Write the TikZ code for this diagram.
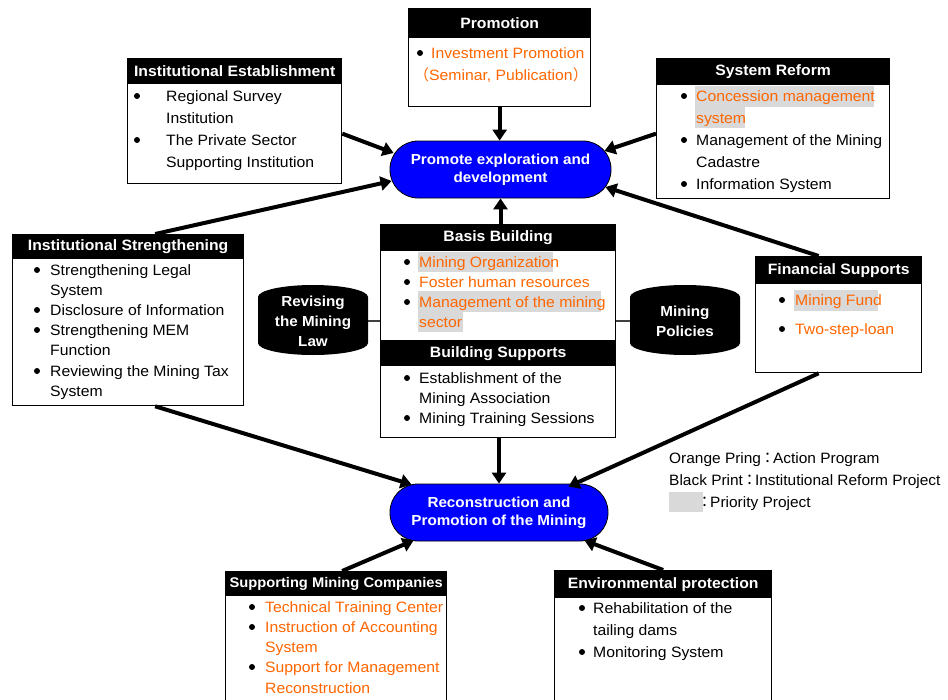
\documentclass[tikz,border=0pt]{standalone}
\usepackage{fontspec}
\setmainfont[FakeStretch=1.05]{Liberation Sans}
\newfontfamily\cjk{Noto Sans CJK JP}
\newfontfamily\keyfont[FakeStretch=1.03]{Liberation Sans}
\usetikzlibrary{arrows.meta,calc}
\definecolor{actorange}{RGB}{255,102,0}
\definecolor{prio}{RGB}{217,217,217}
\definecolor{goalblue}{RGB}{0,0,255}
\newcommand\bul[2]{\fill (#1,#2) circle[radius=3pt];}
\begin{document}
\begin{tikzpicture}[x=1pt,y=-1pt,
  panel/.style={draw, line width=1.3pt, fill=white, anchor=north west, inner sep=0pt},
  hdr/.style={draw, line width=1.3pt, fill=black, text=white, anchor=north west,
    inner sep=0pt, font=\fontsize{15}{18}\selectfont\bfseries},
  ln/.style={anchor=base west, inner sep=0pt, font=\fontsize{15}{18}\selectfont},
  act/.style={ln, text=actorange},
  keyln/.style={anchor=base west, inner sep=0pt, font=\fontsize{15}{18}\keyfont},
  hl/.style={fill=prio},
  goal/.style={draw=black, line width=0.8pt, fill=goalblue, rounded corners=28pt,
    text=white, font=\fontsize{14.5}{18}\selectfont\bfseries, align=center, inner sep=0pt},
  drum/.style={text=white, font=\fontsize{14.5}{20}\selectfont\bfseries, align=center, inner sep=0pt},
  link/.style={line width=4pt, -{Triangle[length=11pt,width=14pt]}},
  tie/.style={line width=1.3pt, draw=black!75}
]
\useasboundingbox (0,0) rectangle (948,699);

% ---------- goals ----------
\node[goal, minimum width=221pt, minimum height=57pt] (pe) at (500.5,169.5)
  {Promote exploration and\\development};
\node[goal, minimum width=218pt, minimum height=57pt] (rc) at (499,512.5)
  {Reconstruction and\\Promotion of the Mining};

% ---------- Promotion ----------
\node[panel, minimum width=182pt, minimum height=98pt] (pr) at (408,8) {};
\node[hdr, minimum width=182pt, minimum height=29pt] (prh) at (408,8) {Promotion};
\bul{420}{53}
\node[act] (pr1) at (431,58) {Investment Promotion};
\node[act] (pr2) at (414,80) {{\cjk （}Seminar, Publication{\cjk ）}};

% ---------- Institutional Establishment ----------
\node[panel, minimum width=214pt, minimum height=125pt] (ie) at (127,58) {};
\node[hdr, minimum width=214pt, minimum height=25pt] (ieh) at (127,58) {Institutional Establishment};
\bul{137}{96} \bul{137}{140}
\node[ln] (ie1) at (166,101) {Regional Survey};
\node[ln] (ie2) at (166,123) {Institution};
\node[ln] (ie3) at (166,145) {The Private Sector};
\node[ln] (ie4) at (166,167) {Supporting Institution};

% ---------- System Reform ----------
\node[panel, minimum width=233pt, minimum height=140pt] (sr) at (656,58) {};
\node[hdr, minimum width=233pt, minimum height=26pt] (srh) at (656,58) {System Reform};
\fill[hl] (695,86) rectangle (874,107);
\fill[hl] (695,107) rectangle (745,128);
\bul{684}{96} \bul{684}{140} \bul{684}{184}
\node[act] (sr1) at (696,101) {Concession management};
\node[act] (sr2) at (696,123) {system};
\node[ln] (sr3) at (696,145) {\makebox[186pt][s]{Management of the Mining}};
\node[ln] (sr4) at (696,167) {Cadastre};
\node[ln] (sr5) at (696,189) {Information System};

% ---------- Institutional Strengthening ----------
\node[panel, minimum width=231pt, minimum height=171pt] (is) at (12,234) {};
\node[hdr, minimum width=231pt, minimum height=24pt] (ish) at (12,234) {Institutional Strengthening};
\bul{37}{270} \bul{37}{310} \bul{37}{330} \bul{37}{371}
\node[ln] (is1) at (50,275) {Strengthening Legal};
\node[ln] (is2) at (50,295) {System};
\node[ln] (is3) at (50,315) {Disclosure of Information};
\node[ln] (is4) at (50,335) {Strengthening MEM};
\node[ln] (is5) at (50,355) {Function};
\node[ln] (is6) at (50,376) {Reviewing the Mining Tax};
\node[ln] (is7) at (50,396) {System};

% ---------- Basis Building / Building Supports ----------
\node[panel, minimum width=235pt, minimum height=213pt] (bb) at (380,224) {};
\node[hdr, minimum width=235pt, minimum height=26pt] (bbh) at (380,224) {Basis Building};
\node[hdr, minimum width=235pt, minimum height=25pt] (bsh) at (380,340) {Building Supports};
\fill[hl] (418,252) rectangle (553,272);
\fill[hl] (418,291) rectangle (601,312);
\fill[hl] (418,312) rectangle (463,332);
\bul{407}{262} \bul{407}{282} \bul{407}{302}
\node[act] (bb1) at (419,267) {Mining Organization};
\node[act] (bb2) at (419,287) {Foster human resources};
\node[act] (bb3) at (419,307) {Management of the mining};
\node[act] (bb4) at (419,327) {sector};
\bul{407}{378} \bul{407}{418}
\node[ln] (bs1) at (419,383) {Establishment of the};
\node[ln] (bs2) at (419,403) {Mining Association};
\node[ln] (bs3) at (419,423) {Mining Training Sessions};

% ---------- drums ----------
\fill (258,297) arc[start angle=180, end angle=360, x radius=55, y radius=12]
  -- (368,343) arc[start angle=0, end angle=180, x radius=55, y radius=12] -- cycle;
\node[drum, minimum width=110pt, minimum height=58pt] (rv) at (313,321)
  {Revising\\the Mining\\Law};
\fill (630,297) arc[start angle=180, end angle=360, x radius=55, y radius=12]
  -- (740,343) arc[start angle=0, end angle=180, x radius=55, y radius=12] -- cycle;
\node[drum, minimum width=110pt, minimum height=58pt] (mp) at (685,321)
  {Mining\\Policies};
\draw[tie] (rv.east) -- (rv.east -| bb.west);
\draw[tie] (mp.west) -- (mp.west -| bb.east);

% ---------- Financial Supports ----------
\node[panel, minimum width=166pt, minimum height=116pt] (fs) at (755,256) {};
\node[hdr, minimum width=166pt, minimum height=27pt] (fsh) at (755,256) {Financial Supports};
\fill[hl] (794,290) rectangle (878,311);
\bul{782}{300} \bul{782}{329}
\node[act] (fs1) at (795,305) {Mining Fund};
\node[act] (fs2) at (795,334) {Two-step-loan};

% ---------- key ----------
\node[keyln] (k1) at (669,463) {Orange Pring\hspace{-1pt}{\cjk ：}\hspace{-2pt}Action Program};
\node[keyln] (k2) at (669,485) {Black Print\hspace{-1pt}{\cjk ：}\hspace{-2pt}Institutional Reform Project};
\fill[hl] (669,492) rectangle (703,512);
\node[keyln] (k3) at (697,507) {{\cjk ：}\hspace{-2pt}Priority Project};

% ---------- Supporting Mining Companies ----------
\node[panel, minimum width=221pt, minimum height=135pt] (smc) at (225,571) {};
\node[hdr, minimum width=221pt, minimum height=24pt, font=\fontsize{14}{18}\selectfont\bfseries]
  (smch) at (225,571) {Supporting Mining Companies};
\bul{252}{607} \bul{252}{627} \bul{252}{667}
\node[act] (smc1) at (265,612) {Technical Training Center};
\node[act] (smc2) at (265,632) {Instruction of Accounting};
\node[act] (smc3) at (265,652) {System};
\node[act] (smc4) at (265,672) {Support for Management};
\node[act] (smc5) at (265,693) {Reconstruction};

% ---------- Environmental protection ----------
\node[panel, minimum width=217pt, minimum height=135pt] (ep) at (554,570) {};
\node[hdr, minimum width=217pt, minimum height=27pt] (eph) at (554,570) {Environmental protection};
\bul{582}{608} \bul{582}{652}
\node[ln] (ep1) at (593,613) {Rehabilitation of the};
\node[ln] (ep2) at (593,635) {tailing dams};
\node[ln] (ep3) at (593,657) {Monitoring System};

% ---------- arrows ----------
\draw[link] (pr.south) -- (pr.south |- pe.north);
\draw[link] ([yshift=-12.5pt]ie.east) -- ([xshift=4pt,yshift=16.5pt]pe.west);
\draw[link] ([yshift=-5pt]sr.west) -- ([xshift=-7pt,yshift=18.5pt]pe.east);
\draw[link] ([xshift=27pt]is.north) -- ([xshift=2pt,yshift=-11.5pt]pe.west);
\draw[link] ([xshift=-20pt]fs.north) -- ([xshift=-6pt,yshift=-17.5pt]pe.east);
\draw[link] (pe.south |- bb.north) -- (pe.south);
\draw[link] (rc.north |- bb.south) -- (rc.north);
\draw[link] ([xshift=27pt]is.south) -- ([xshift=22pt,yshift=-1pt]rc.north west);
\draw[link] ([xshift=-20pt]fs.south) -- ([xshift=-40pt,yshift=-3pt]rc.north east);
\draw[link] ([xshift=6pt]smc.north) -- ([xshift=24pt,yshift=1pt]rc.south west);
\draw[link] (ep.north) -- ([xshift=-24pt,yshift=1pt]rc.south east);
\end{tikzpicture}
\end{document}
